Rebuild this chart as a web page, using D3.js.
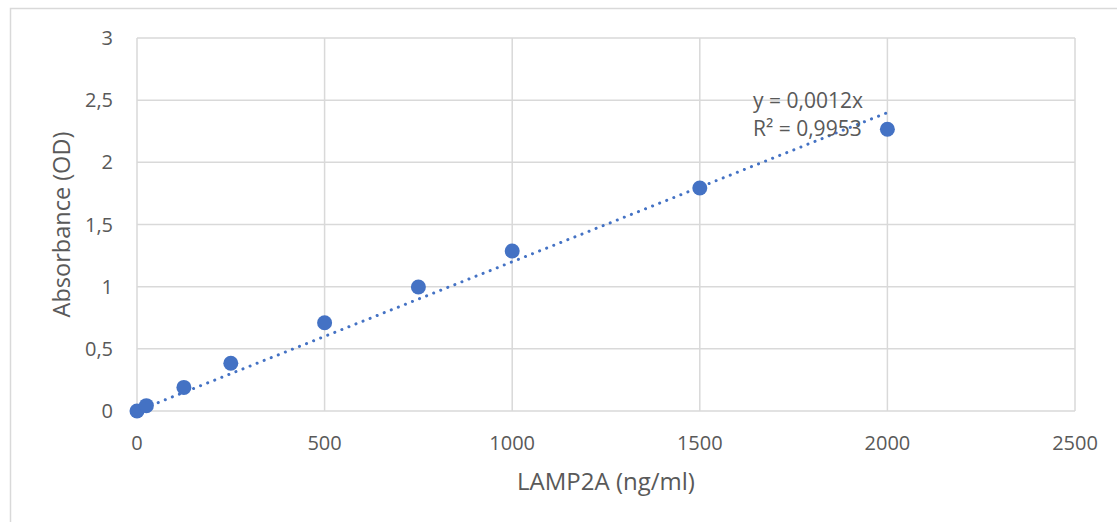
<!DOCTYPE html>
<html>
<head>
<meta charset="utf-8">
<script src="https://cdn.jsdelivr.net/npm/d3@7/dist/d3.min.js"></script>
<style>
  body { margin: 0; background: #fff; }
  svg text { font-family: "Open Sans", sans-serif; fill: #595959; }
</style>
</head>
<body>
<svg width="1117" height="522"></svg>
<script>
// standard curve values
const concentrations = [0, 25, 125, 250, 500, 750, 1000, 1500, 2000];
const absorbance = [0, 0.043, 0.19, 0.384, 0.71, 0.997, 1.287, 1.794, 2.266];
const xTicks = [0, 500, 1000, 1500, 2000, 2500];
const yTicks = [0, 0.5, 1, 1.5, 2, 2.5, 3];
const trendRange = [0, 2000];
const slope = 0.0012;
const equationLines = ["y = 0,0012x", "R² = 0,9953"];

const blue = "#4472c4";
const grid = "#d9d9d9";

const svg = d3.select("svg"),
  width = +svg.attr("width"),
  height = +svg.attr("height");

const margin = { left: 137, top: 38, right: 1075, bottom: 411 };

const x = d3.scaleLinear().domain([0, 2500]).range([margin.left, margin.right]);
const y = d3.scaleLinear().domain([0, 3]).range([margin.bottom, margin.top]);

const fmt = d => String(d).replace(".", ",");

// outer chart frame
svg.append("rect")
  .attr("x", 10.5).attr("y", 8.5)
  .attr("width", width + 20).attr("height", height + 20)
  .attr("fill", "none").attr("stroke", grid).attr("stroke-width", 1.5);

// gridlines
svg.append("g").selectAll("line")
  .data(yTicks)
  .enter().append("line")
    .attr("x1", margin.left).attr("x2", margin.right)
    .attr("y1", d => y(d)).attr("y2", d => y(d))
    .attr("stroke", grid).attr("stroke-width", 1.5);

svg.append("g").selectAll("line")
  .data(xTicks)
  .enter().append("line")
    .attr("x1", d => x(d)).attr("x2", d => x(d))
    .attr("y1", margin.top).attr("y2", margin.bottom)
    .attr("stroke", grid).attr("stroke-width", 1.5);

// tick labels
svg.append("g").selectAll("text")
  .data(yTicks)
  .enter().append("text")
    .attr("x", 113).attr("y", d => y(d) + 7)
    .attr("text-anchor", "end")
    .attr("font-size", 20)
    .text(fmt);

svg.append("g").selectAll("text")
  .data(xTicks)
  .enter().append("text")
    .attr("x", d => x(d)).attr("y", 450)
    .attr("text-anchor", "middle")
    .attr("font-size", 20)
    .text(fmt);

// axis titles
svg.append("text")
  .attr("x", 606).attr("y", 490)
  .attr("text-anchor", "middle")
  .attr("font-size", 24)
  .text("LAMP2A (ng/ml)");

svg.append("text")
  .attr("transform", `translate(70,${(margin.top + margin.bottom) / 2}) rotate(-90)`)
  .attr("text-anchor", "middle")
  .attr("font-size", 23.5)
  .text("Absorbance (OD)");

// dotted linear trendline
const line = d3.line().x(d => x(d)).y(d => y(d * slope));
svg.append("path")
  .datum(trendRange)
  .attr("d", line)
  .attr("fill", "none")
  .attr("stroke", blue)
  .attr("stroke-width", 3)
  .attr("stroke-linecap", "round")
  .attr("stroke-dasharray", "0.1 7.5");

// markers
svg.append("g").selectAll("circle")
  .data(concentrations)
  .enter().append("circle")
    .attr("cx", d => x(d))
    .attr("cy", (d, i) => y(absorbance[i]))
    .attr("r", 7.5)
    .attr("fill", blue);

// equation label
svg.append("g").selectAll("text")
  .data(equationLines)
  .enter().append("text")
    .attr("x", 753)
    .attr("y", (d, i) => 108 + i * 28)
    .attr("font-size", 21)
    .text(d => d);
</script>
</body>
</html>
